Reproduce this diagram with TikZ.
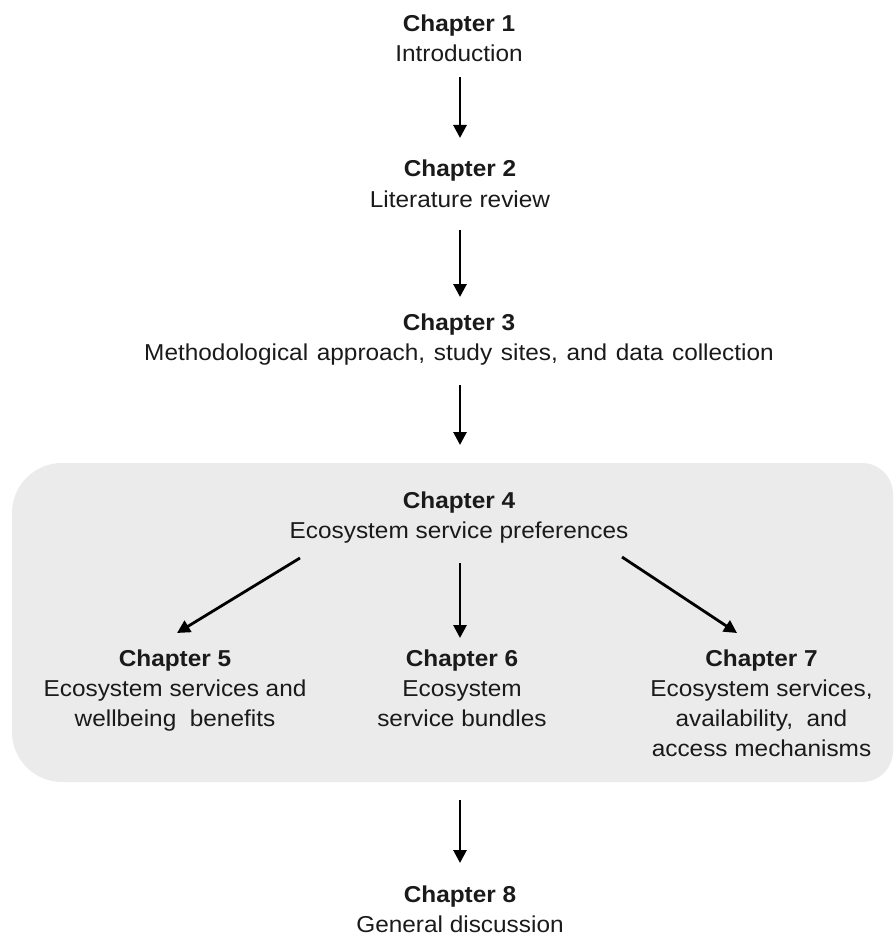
\documentclass[tikz,border=0pt]{standalone}
\usepackage{fontspec}
\setmainfont{Liberation Sans}[FakeStretch=1.06]
\usetikzlibrary{arrows.meta,calc}
\definecolor{panelgrey}{HTML}{EBEBEB}
\definecolor{inkblack}{HTML}{1A1A1A}
\begin{document}
\begin{tikzpicture}[x=1pt,y=-1pt,
  chapter/.style={align=center,inner sep=0pt,text=inkblack,anchor=base,
    font=\fontsize{23}{30}\selectfont},
  flow/.style={line width=2.8pt,draw=black,
    -{Triangle[length=13pt,width=13pt]}}]
  \useasboundingbox (0,0) rectangle (895,936);

  % shaded panel grouping chapters 4 to 7
  \node[minimum width=881pt,minimum height=319pt,inner sep=0pt,outer sep=0pt]
    (panel) at (452.5,622.5) {};
  \fill[panelgrey] (panel.south) [rounded corners=50pt] -- (panel.south west)
    -- (panel.north west) -- (panel.north) [rounded corners=31pt]
    -- (panel.north east) -- (panel.south east) -- cycle;

  % chapter nodes, placed at the baseline of their last line
  \node[chapter] (c1) at (459,62) {\textbf{Chapter 1}\\Introduction};
  \node[chapter] (c2) at (460,207) {\textbf{Chapter 2}\\Literature review};
  \node[chapter] (c3) at (459,360) {\textbf{Chapter 3}\\{\spaceskip=8.7pt plus 2pt minus 1pt Methodological approach, study sites, and data collection}};
  \node[chapter] (c4) at (459,538) {\textbf{Chapter 4}\\Ecosystem service preferences};
  \node[chapter] (c5) at (175,726) {\textbf{Chapter 5}\\Ecosystem services and\\wellbeing\ \ benefits};
  \node[chapter] (c6) at (462,726) {\textbf{Chapter 6}\\Ecosystem\\service bundles};
  \node[chapter] (c7) at (761.5,756) {\textbf{Chapter 7}\\Ecosystem services,\\availability,\ \ and\\access mechanisms};
  \node[chapter] (c8) at (460,932) {\textbf{Chapter 8}\\General discussion};

  \draw[flow] ($(c1.base)+(1,15)$) -- ($(c2.base)+(0,-69)$);
  \draw[flow] ($(c2.base)+(0,23)$) -- ($(c3.base)+(1,-63)$);
  \draw[flow] ($(c3.base)+(1,25)$) -- ($(c4.base)+(1,-93)$);
  \draw[flow] ($(c4.base)+(-159,20)$) -- ($(c5.base)+(2,-93)$);
  \draw[flow] ($(c4.base)+(1,25)$) -- ($(c6.base)+(-2,-88)$);
  \draw[flow] ($(c4.base)+(163,19)$) -- ($(c7.base)+(-24.5,-123)$);
  \draw[flow] ($(panel.south)+(7.5,18)$) -- ($(c8.base)+(0,-69)$);
\end{tikzpicture}
\end{document}
